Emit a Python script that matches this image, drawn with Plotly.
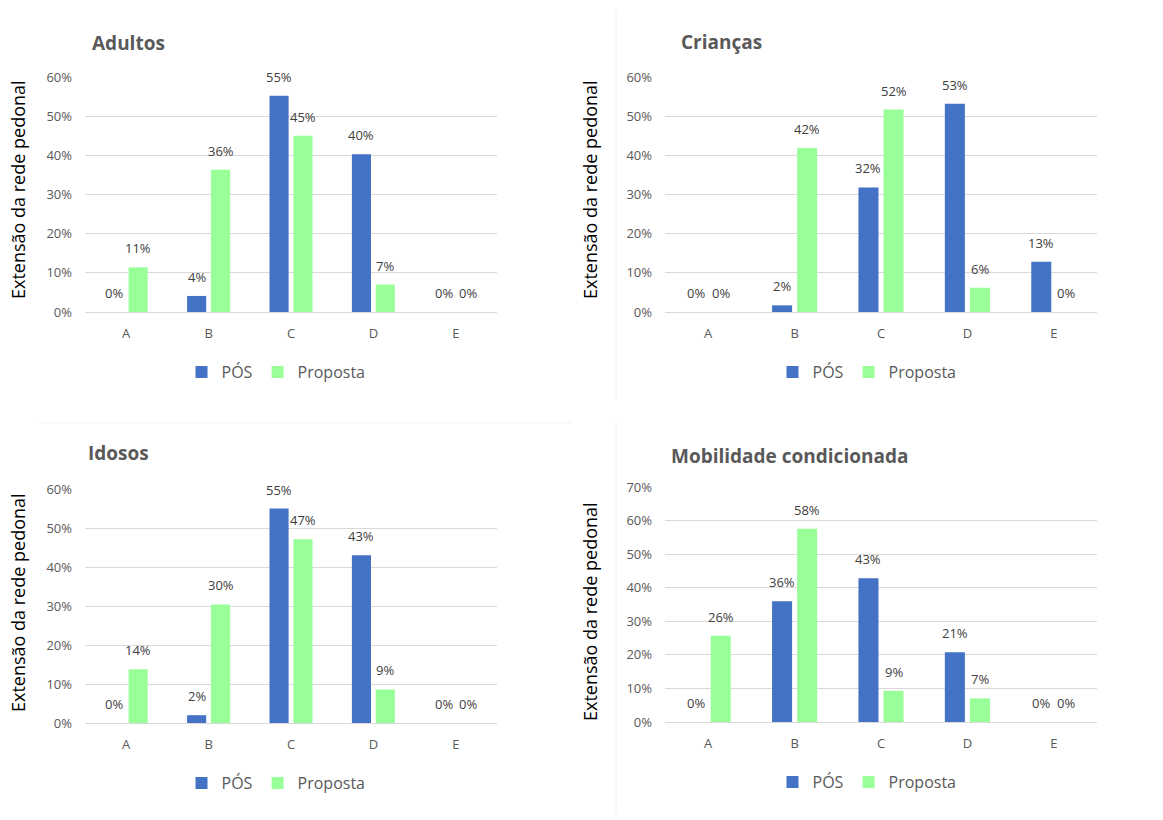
import plotly.graph_objects as go

W, H = 1163, 820

categories = ["A", "B", "C", "D", "E"]
titles = ["Adultos", "Crianças", "Idosos", "Mobilidade condicionada"]
series_names = ["PÓS", "Proposta"]

adultos_pos = [0, 4.1, 55.2, 40.3, 0]
adultos_prop = [11.4, 36.3, 45.0, 7.0, 0]
criancas_pos = [0, 1.7, 31.8, 53.2, 12.8]
criancas_prop = [0, 41.9, 51.7, 6.2, 0]
idosos_pos = [0, 2.0, 55.0, 43.0, 0]
idosos_prop = [13.8, 30.4, 47.1, 8.6, 0]
mobilidade_pos = [0, 36.0, 42.8, 20.8, 0]
mobilidade_prop = [25.7, 57.6, 9.3, 7.05, 0]

y_max = [60, 60, 60, 70]
y_title = "Extensão da rede pedonal"

data = [
    (adultos_pos, adultos_prop),
    (criancas_pos, criancas_prop),
    (idosos_pos, idosos_prop),
    (mobilidade_pos, mobilidade_prop),
]

BLUE = "#4472C4"
GREEN = "#99FF99"
FONT = "Open Sans"
GREY = "#595959"
BARGAP = 0.42

# panel layout in pixels: (x0, x1, y_top, y_bottom)
panels = [
    (85, 497, 77, 312),
    (665, 1097, 77, 312),
    (85, 497, 489, 723),
    (665, 1097, 487, 722),
]
title_pos = [(90, 43), (679, 42), (86, 453), (669, 456)]
ytitle_pos = [(18, 190), (590, 190), (18, 603), (590, 612)]
legend_pos = [(276, 372), (867, 372), (276, 783), (867, 782)]

fig = go.Figure()
annotations = []

for i, (pos, prop) in enumerate(data):
    ax = "" if i == 0 else str(i + 1)
    leg = "legend" if i == 0 else f"legend{i + 1}"
    for k, (name, vals, col) in enumerate(zip(series_names, (pos, prop), (BLUE, GREEN))):
        fig.add_trace(go.Bar(
            x=categories, y=vals, name=name,
            marker=dict(color=col, line=dict(width=0)),
            xaxis="x" + ax, yaxis="y" + ax, legend=leg,
            hovertemplate="%{x}: %{y:.0f}%<extra>" + name + "</extra>",
        ))
        # data labels centred over each bar of the group
        off = (1 - BARGAP) / 4 * (-1 if k == 0 else 1)
        for j, v in enumerate(vals):
            annotations.append(dict(
                x=j + off, y=v, xref="x" + ax, yref="y" + ax,
                text=f"{v:.0f}%" if abs(v - round(v)) != 0.5 else f"{v + 0.01:.0f}%",
                showarrow=False, xanchor="center", yanchor="bottom", yshift=8,
                font=dict(family=FONT, size=13, color="#404040"),
            ))

layout = dict(
    width=W, height=H, autosize=False,
    margin=dict(l=0, r=0, t=0, b=0, pad=0, autoexpand=False),
    paper_bgcolor="white", plot_bgcolor="white",
    barmode="group", bargap=BARGAP, bargroupgap=0.2,
    font=dict(family=FONT, color=GREY),
    showlegend=True,
    shapes=[],
)

for i, (x0, x1, yt, yb) in enumerate(panels):
    ax = "" if i == 0 else str(i + 1)
    layout["xaxis" + ax] = dict(
        domain=[x0 / W, x1 / W], anchor="y" + ax,
        type="category", automargin=False,
        showgrid=False, showline=False, zeroline=False,
        ticks="", ticklabelstandoff=12,
        tickfont=dict(family=FONT, size=13, color=GREY),
        fixedrange=True,
    )
    layout["yaxis" + ax] = dict(
        domain=[1 - yb / H, 1 - yt / H], anchor="x" + ax,
        range=[0, y_max[i]], dtick=10, ticksuffix="%", automargin=False,
        showgrid=True, gridcolor="#D9D9D9", gridwidth=1,
        zeroline=True, zerolinecolor="#D9D9D9", zerolinewidth=1,
        showline=False, ticks="", ticklabelstandoff=12,
        tickfont=dict(family=FONT, size=13, color=GREY),
        fixedrange=True,
    )
    leg = "legend" if i == 0 else f"legend{i + 1}"
    lx, ly = legend_pos[i]
    layout[leg] = dict(
        x=lx / W, y=1 - ly / H, xanchor="center", yanchor="middle",
        orientation="h", bgcolor="rgba(0,0,0,0)",
        font=dict(family=FONT, size=16, color=GREY),
        itemwidth=30, traceorder="normal",
    )
    tx, ty = title_pos[i]
    annotations.append(dict(
        text=f"<b>{titles[i]}</b>", x=tx / W, y=1 - ty / H,
        xref="paper", yref="paper", xanchor="left", yanchor="middle",
        showarrow=False, font=dict(family=FONT, size=19, color=GREY),
    ))
    yx, yy = ytitle_pos[i]
    annotations.append(dict(
        text=y_title, x=yx / W, y=1 - yy / H, textangle=-90,
        xref="paper", yref="paper", xanchor="center", yanchor="middle",
        showarrow=False, font=dict(family=FONT, size=18, color="#000000"),
    ))

layout["annotations"] = annotations

# faint chart-area borders of the original composite
border = dict(color="#F2F2F2", width=1)
layout["shapes"] = [
    dict(type="line", xref="paper", yref="paper", x0=616 / W, x1=616 / W,
         y0=1 - 400 / H, y1=1 - 10 / H, line=border),
    dict(type="line", xref="paper", yref="paper", x0=38 / W, x1=572 / W,
         y0=1 - 423 / H, y1=1 - 423 / H, line=border),
    dict(type="line", xref="paper", yref="paper", x0=616 / W, x1=616 / W,
         y0=1 - 815 / H, y1=1 - 420 / H, line=border),
]

fig.update_layout(**layout)
fig.write_html("out.html", config={"displayModeBar": False})
